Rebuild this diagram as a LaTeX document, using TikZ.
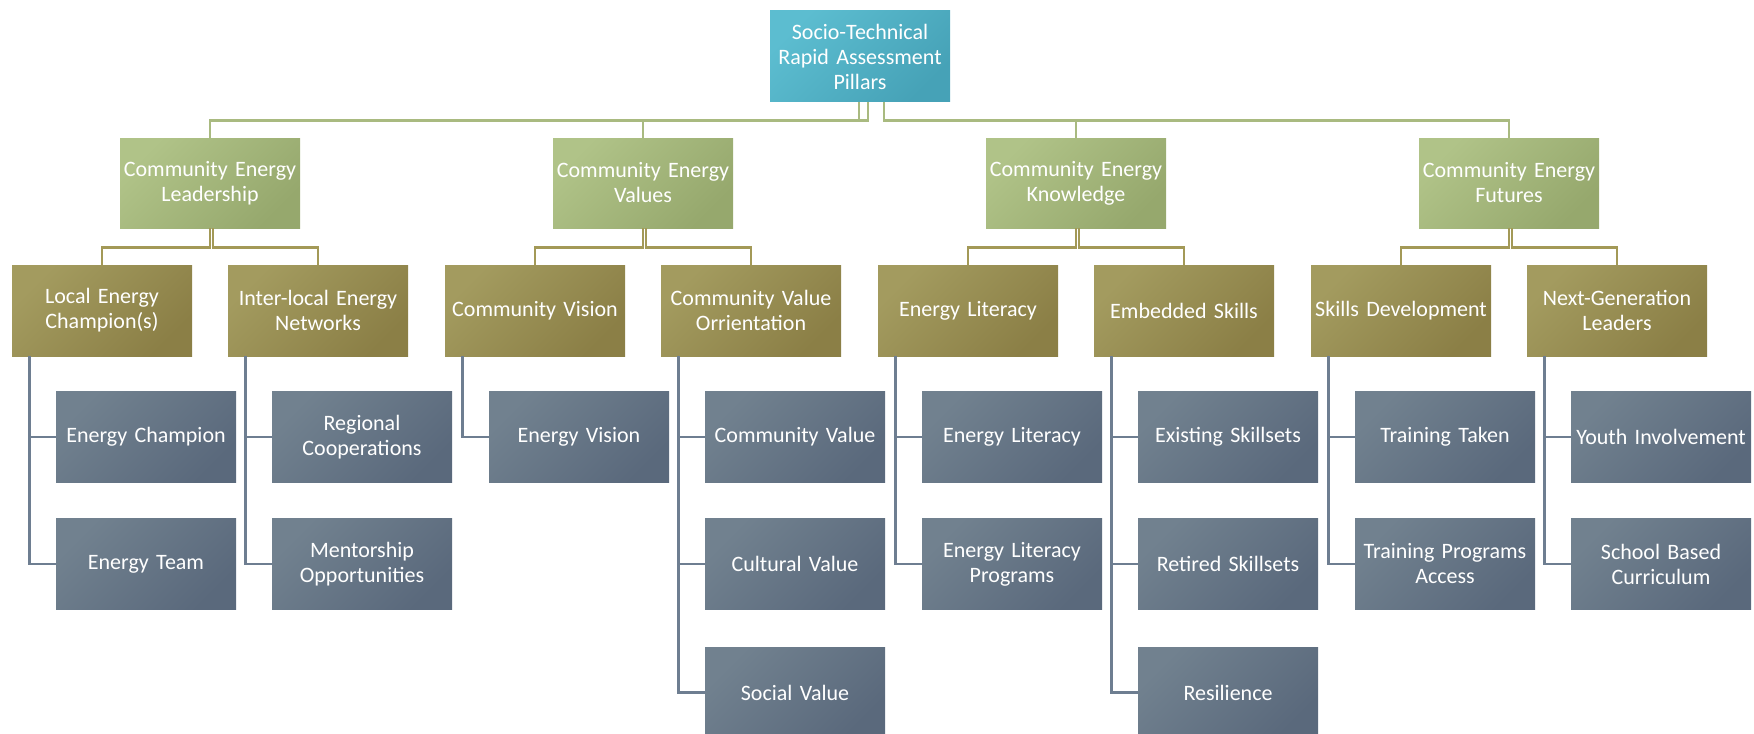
\documentclass[tikz,border=0pt]{standalone}
\usepackage{fontspec}
\setmainfont{Carlito}
\definecolor{tealA}{HTML}{5CBDD0}
\definecolor{tealB}{HTML}{46A2B7}
\definecolor{greenA}{HTML}{B0C388}
\definecolor{greenB}{HTML}{96A86D}
\definecolor{oliveA}{HTML}{A39B5F}
\definecolor{oliveB}{HTML}{8B7F46}
\definecolor{slateA}{HTML}{71818F}
\definecolor{slateB}{HTML}{5A697C}
\definecolor{lgreen}{HTML}{A9BA80}
\definecolor{lolive}{HTML}{A39957}
\definecolor{lslate}{HTML}{6E7E91}
\begin{document}
\begin{tikzpicture}[x=0.5pt,y=-0.5pt,
  box/.style={rectangle, minimum width=90pt, minimum height=45.5pt, inner sep=0pt,
    text width=88pt, align=center, text=white, font=\fontsize{11}{12.5}\selectfont},
  rootbox/.style={box, top color=tealA, bottom color=tealB, shading angle=45},
  pillar/.style={box, top color=greenA, bottom color=greenB, shading angle=45, minimum height=45pt},
  theme/.style={box, top color=oliveA, bottom color=oliveB, shading angle=45},
  item/.style={box, top color=slateA, bottom color=slateB, shading angle=45},
  gline/.style={draw=lgreen, line width=1.3pt},
  oline/.style={draw=lolive, line width=1.3pt},
  sline/.style={draw=lslate, line width=1.2pt}]
\useasboundingbox (0,0) rectangle (1754,733);

% root
\node[rootbox] (r) at (860,56.5) {Socio-Technical\\Rapid Assessment\\Pillars};

% pillars
\node[pillar] (a) at (210,183) {Community Energy\\Leadership};
\node[pillar] (b) at (643,183) {Community Energy\\Values};
\node[pillar] (c) at (1076,183) {Community Energy\\Knowledge};
\node[pillar] (d) at (1509,183) {Community Energy\\Futures};

% themes
\node[theme] (a1) at (102,310.5) {Local Energy\\Champion(s)};
\node[theme] (a2) at (318,310.5) {Inter-local Energy\\Networks};
\node[theme] (b1) at (535,310.5) {Community Vision};
\node[theme] (b2) at (751,310.5) {Community Value\\Orrientation};
\node[theme] (c1) at (968,310.5) {Energy Literacy};
\node[theme] (c2) at (1184,310.5) {Embedded Skills};
\node[theme] (d1) at (1401,310.5) {Skills Development};
\node[theme] (d2) at (1617,310.5) {Next-Generation\\Leaders};

% items
\node[item] (a1x) at (146,437) {Energy Champion};
\node[item] (a1y) at (146,564) {Energy Team};
\node[item] (a2x) at (362,437) {Regional\\Cooperations};
\node[item] (a2y) at (362,564) {Mentorship\\Opportunities};
\node[item] (b1x) at (579,437) {Energy Vision};
\node[item] (b2x) at (795,437) {Community Value};
\node[item] (b2y) at (795,564) {Cultural Value};
\node[item] (b2z) at (795,692.5) {Social Value};
\node[item] (c1x) at (1012,437) {Energy Literacy};
\node[item] (c1y) at (1012,564) {Energy Literacy\\Programs};
\node[item] (c2x) at (1228,437) {Existing Skillsets};
\node[item] (c2y) at (1228,564) {Retired Skillsets};
\node[item] (c2z) at (1228,692.5) {Resilience};
\node[item] (d1x) at (1445,437) {Training Taken};
\node[item] (d1y) at (1445,564) {Training Programs\\Access};
\node[item] (d2x) at (1661,437) {Youth Involvement};
\node[item] (d2y) at (1661,564) {School Based\\Curriculum};

% root to pillars
\draw[gline] ([xshift=-0.5pt]r.south) -- ++(0,18) -| (a.north);
\draw[gline] ([xshift=4pt]r.south) -- ++(0,18) -| (b.north);
\draw[gline] ([xshift=12pt]r.south) -- ++(0,18) -| (c.north);
\draw[gline] ([xshift=12pt]r.south) -- ++(0,18) -| (d.north);

% pillars to themes
\foreach \p/\u/\v in {a/a1/a2, b/b1/b2, c/c1/c2, d/d1/d2}{
  \draw[oline] (\p.south) -- ++(0,19) -| (\u.north);
  \draw[oline] ([xshift=1.5pt]\p.south) -- ++(0,19) -| (\v.north);
}

% themes to items
\foreach \t/\i in {a1/a1x, a1/a1y, a2/a2x, a2/a2y, b1/b1x, b2/b2x, b2/b2y, b2/b2z,
                   c1/c1x, c1/c1y, c2/c2x, c2/c2y, c2/c2z, d1/d1x, d1/d1y, d2/d2x, d2/d2y}{
  \draw[sline] ([xshift=9pt]\t.south west) |- (\i.west);
}
\end{tikzpicture}
\end{document}
